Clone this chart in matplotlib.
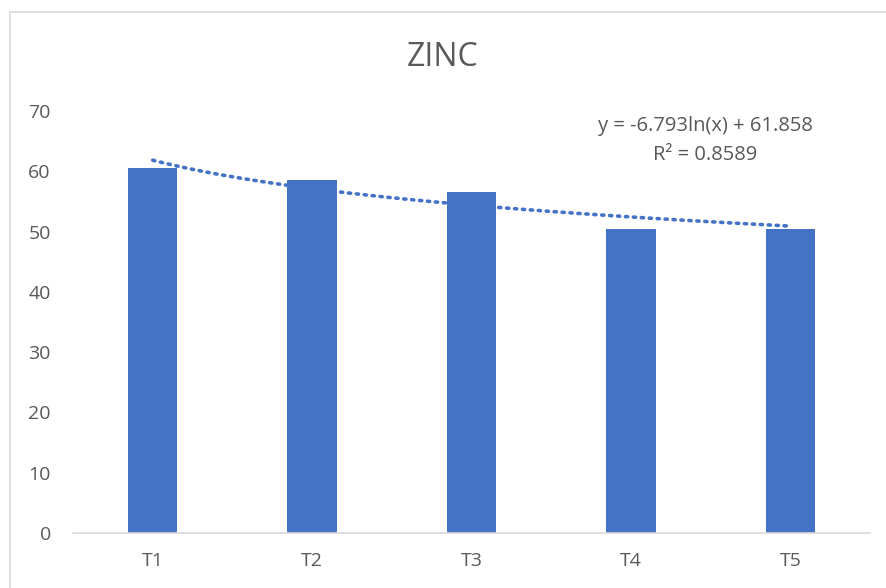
import numpy as np
import matplotlib.pyplot as plt
from matplotlib.patches import Rectangle

categories = ["T1", "T2", "T3", "T4", "T5"]
values = [60.5, 58.5, 56.5, 50.5, 50.5]
trend_a = -6.793
trend_b = 61.858
r_squared = 0.8589
yticks = [0, 10, 20, 30, 40, 50, 60, 70]

blue = "#4472C4"
grey = "#595959"
plt.rcParams["font.family"] = ["Open Sans", "DejaVu Sans"]

fig = plt.figure(figsize=(8.86, 5.88), dpi=100)
ax = fig.add_axes([0.0824, 0.0935, 0.8996, 0.7175])

# chart border (cut off on right and bottom like the reference)
fig.patches.append(Rectangle((10 / 886, -0.05), 1.0, 1 - 12 / 588 + 0.05,
                             transform=fig.transFigure, fill=False,
                             edgecolor="#D9D9D9", linewidth=1.2))

x = np.arange(len(categories))
ax.bar(x, values, width=0.31, color=blue, zorder=2)

# logarithmic trendline y = a ln(x) + b, x = 1..5 for the categories
xs = np.linspace(1, len(categories), 200)
ax.plot(xs - 1, trend_a * np.log(xs) + trend_b, color=blue, linestyle=(0, (0.6, 1.6)),
        linewidth=2.6, dash_capstyle="round", zorder=3)

ax.set_xlim(-0.5, len(categories) - 0.5)
ax.set_ylim(0, 70)
ax.set_xticks(x)
ax.set_xticklabels(categories)
ax.set_yticks(yticks)
ax.tick_params(axis="both", length=0, labelsize=14, colors=grey)
ax.tick_params(axis="x", pad=14)
ax.tick_params(axis="y", pad=16)
for s in ["top", "right", "left"]:
    ax.spines[s].set_visible(False)
ax.spines["bottom"].set_color("#D9D9D9")
ax.spines["bottom"].set_linewidth(1.2)

fig.text(0.5, 1 - 58 / 588, "ZINC", ha="center", va="center", fontsize=23, color=grey)
fig.text(705 / 886, 1 - 126 / 588, "y = %.3fln(x) + %.3f" % (trend_a, trend_b),
         ha="center", va="center", fontsize=14.5, color=grey)
fig.text(705 / 886, 1 - 155 / 588, "R² = %.4f" % r_squared,
         ha="center", va="center", fontsize=14.5, color=grey)

fig.savefig("out.png", dpi=100)
